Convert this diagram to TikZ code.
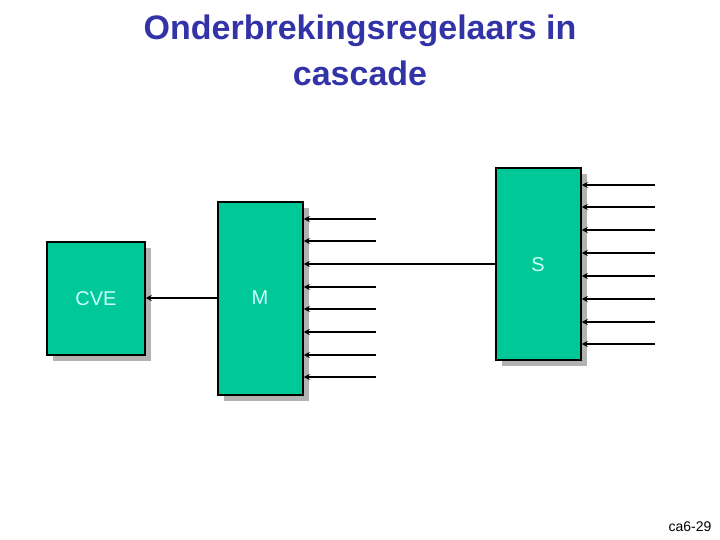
\documentclass[tikz,border=0pt]{standalone}
\usepackage{fontspec}
\setmainfont{Liberation Sans}
\usetikzlibrary{arrows.meta}
\definecolor{boxg}{HTML}{00C896}
\definecolor{ttl}{HTML}{3333A8}
\definecolor{lbl}{HTML}{CCFFFF}
\begin{document}
\begin{tikzpicture}[x=1pt,y=-1pt,
  blk/.style={draw=black,line width=1.5pt,fill=boxg,inner sep=0pt,
    font=\fontsize{20}{22}\selectfont,text=lbl},
  arr/.style={line width=2pt,-{Stealth[length=6pt,width=6pt]}}]
\useasboundingbox (0,0) rectangle (720,540);
\node[font=\bfseries\fontsize{34}{46}\selectfont,text=ttl,align=center] (t) at (360,50) {Onderbrekingsregelaars in\\cascade};
\fill[gray!60] (53,248) rectangle (151,361);
\fill[gray!60] (224,208) rectangle (309,401);
\fill[gray!60] (502,174) rectangle (587,366);
\node[blk,minimum width=98pt,minimum height=113pt] (cve) at (96,298.5) {CVE};
\node[blk,minimum width=85pt,minimum height=193pt] (m) at (260.5,298.5) {};
\node[text=lbl,font=\fontsize{20}{22}\selectfont] (ml) at (260,298) {M};
\node[blk,minimum width=85pt,minimum height=192pt] (s) at (538.5,264) {};
\node[text=lbl,font=\fontsize{20}{22}\selectfont] (sl) at (538,265) {S};
\draw[arr] (m.west|-0,298) -- (cve.east|-0,298);
\foreach \y [count=\i] in {219,241,287,309,332,355,377}{
  \coordinate (mi\i) at (376,\y);
  \draw[arr] (mi\i) -- (m.east|-mi\i);}
\draw[arr] (s.west|-0,264) -- (m.east|-0,264);
\foreach \y [count=\i] in {185,207,230,253,276,299,322,344}{
  \coordinate (si\i) at (655,\y);
  \draw[arr] (si\i) -- (s.east|-si\i);}
\node[font=\fontsize{14}{16}\selectfont,anchor=east] (c) at (715,527) {ca6-29};
\end{tikzpicture}
\end{document}
